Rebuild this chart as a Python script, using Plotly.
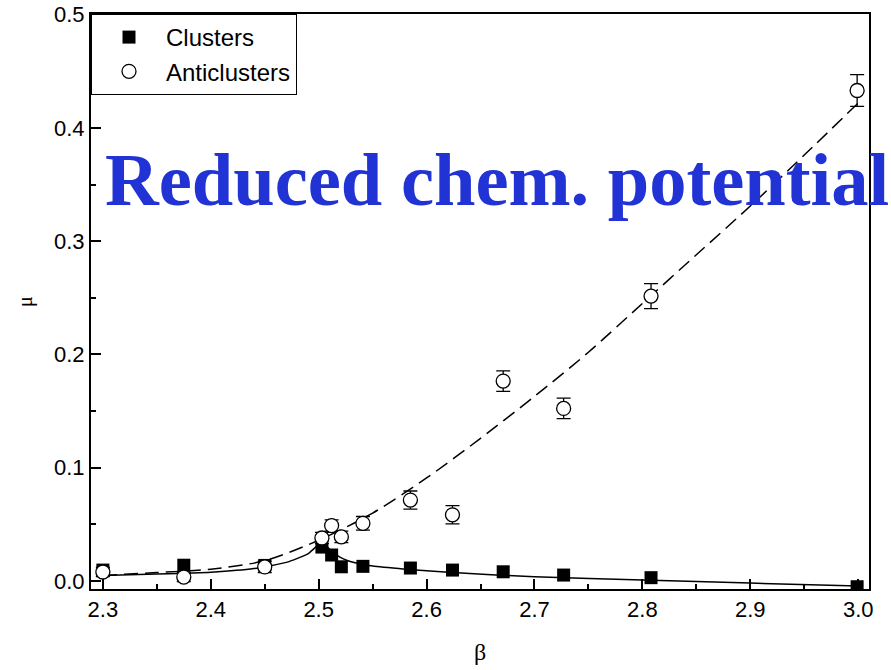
import plotly.graph_objects as go

# ---- data ----
beta_clusters = [2.300, 2.375, 2.450, 2.503, 2.512, 2.521, 2.541, 2.585, 2.624, 2.671, 2.727, 2.808, 2.999]
mu_clusters = [0.0097, 0.0140, 0.0138, 0.0300, 0.0230, 0.0126, 0.0130, 0.0115, 0.0097, 0.0082, 0.0053, 0.0030, -0.0050]

beta_anti = [2.300, 2.375, 2.450, 2.503, 2.512, 2.521, 2.541, 2.585, 2.624, 2.671, 2.727, 2.808, 2.999]
mu_anti = [0.0080, 0.0035, 0.0125, 0.0380, 0.0490, 0.0390, 0.0510, 0.0715, 0.0585, 0.1765, 0.1524, 0.2515, 0.4330]
mu_anti_err = [0.004, 0.004, 0.005, 0.005, 0.005, 0.005, 0.006, 0.008, 0.008, 0.009, 0.009, 0.011, 0.014]

# fitted curves (read at sample points)
beta_fit_clusters = [2.30, 2.35, 2.40, 2.44, 2.47, 2.49, 2.503, 2.512, 2.521, 2.53, 2.55, 2.58, 2.62, 2.66, 2.70, 2.80, 2.90, 3.00]
mu_fit_clusters = [0.0050, 0.0062, 0.0078, 0.0110, 0.0165, 0.0240, 0.0340, 0.0265, 0.0205, 0.0170, 0.0132, 0.0105, 0.0078, 0.0056, 0.0038, 0.0010, -0.0018, -0.0044]

beta_fit_anti = [2.30, 2.35, 2.40, 2.45, 2.50, 2.55, 2.60, 2.65, 2.70, 2.75, 2.80, 2.85, 2.90, 2.95, 3.00]
mu_fit_anti = [0.0050, 0.0075, 0.0105, 0.0180, 0.0360, 0.0600, 0.0910, 0.1260, 0.1630, 0.2020, 0.2450, 0.2880, 0.3310, 0.3760, 0.4220]

x_ticks = [2.3, 2.4, 2.5, 2.6, 2.7, 2.8, 2.9, 3.0]
x_tick_labels = ["2.3", "2.4", "2.5", "2.6", "2.7", "2.8", "2.9", "3.0"]
y_ticks = [0.0, 0.1, 0.2, 0.3, 0.4, 0.5]
y_tick_labels = ["0.0", "0.1", "0.2", "0.3", "0.4", "0.5"]

fig = go.Figure()

fig.add_trace(go.Scatter(
    x=beta_fit_clusters, y=mu_fit_clusters, mode="lines",
    line=dict(color="black", width=1.5, shape="spline", smoothing=0.5),
    showlegend=False, hoverinfo="skip"))
fig.add_trace(go.Scatter(
    x=beta_fit_anti, y=mu_fit_anti, mode="lines",
    line=dict(color="black", width=1.5, dash="14px,7px", shape="spline", smoothing=0.8),
    showlegend=False, hoverinfo="skip"))

fig.add_trace(go.Scatter(
    x=beta_clusters, y=mu_clusters, mode="markers", name="Clusters",
    marker=dict(symbol="square", size=13, color="black", line=dict(width=0))))
fig.add_trace(go.Scatter(
    x=beta_anti, y=mu_anti, mode="markers", name="Anticlusters",
    marker=dict(symbol="circle", size=14, color="white", line=dict(color="black", width=1.3)),
    error_y=dict(type="data", array=mu_anti_err, visible=True, color="black", thickness=1.3, width=7)))

fig.add_annotation(
    text="<b>Reduced chem. potential</b>", xref="paper", yref="paper",
    x=(103 - 91) / 778, y=1 - (180 - 14) / 575, xanchor="left", yanchor="middle",
    showarrow=False,
    font=dict(family="Liberation Serif, Times New Roman, serif", size=74.5, color="#2233D6"))

fig.update_layout(
    width=891, height=670,
    margin=dict(l=91, r=22, t=14, b=81, autoexpand=False),
    paper_bgcolor="white", plot_bgcolor="white",
    font=dict(family="Liberation Sans, Arial, sans-serif", color="black"),
    legend=dict(
        x=0, y=1, xanchor="left", yanchor="top",
        bgcolor="white", bordercolor="black", borderwidth=1,
        font=dict(size=24, family="Liberation Sans, Arial, sans-serif"),
        itemwidth=64, tracegroupgap=0),
    xaxis=dict(
        range=[2.289, 3.010], tickvals=x_ticks, ticktext=x_tick_labels,
        ticks="inside", ticklen=10, tickwidth=2, tickcolor="black",
        minor=dict(ticks="inside", ticklen=5, tickwidth=2, dtick=0.05, tick0=2.3, tickcolor="black"),
        showline=True, linewidth=2, linecolor="black", mirror=True,
        showgrid=False, zeroline=False, automargin=False,
        tickfont=dict(size=22),
        title=dict(text="β", font=dict(family="Liberation Serif, serif", size=24), standoff=22)),
    yaxis=dict(
        range=[-0.007, 0.5005], tickvals=y_ticks, ticktext=y_tick_labels,
        ticks="inside", ticklen=10, tickwidth=2, tickcolor="black",
        minor=dict(ticks="inside", ticklen=5, tickwidth=2, dtick=0.05, tick0=0, tickcolor="black"),
        showline=True, linewidth=2, linecolor="black", mirror=True,
        showgrid=False, zeroline=False, automargin=False,
        tickfont=dict(size=22),
        title=dict(text="μ", font=dict(family="Liberation Serif, serif", size=20), standoff=16)),
)

fig.write_html("out.html", config={"displayModeBar": False},
               post_script="document.body.style.margin='0';document.body.style.overflow='hidden';")
